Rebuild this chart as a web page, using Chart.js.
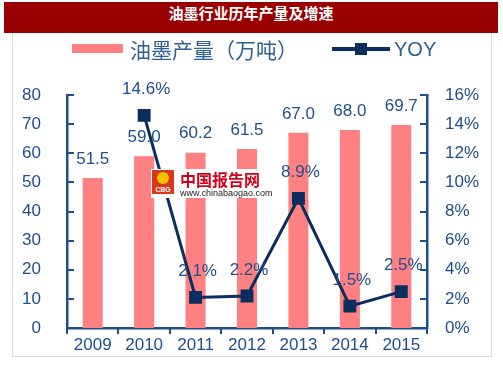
<!DOCTYPE html>
<html>
<head>
<meta charset="utf-8">
<script src="https://cdn.jsdelivr.net/npm/chart.js@4.4.0/dist/chart.umd.min.js"></script>
<style>
  html, body { margin: 0; padding: 0; background: #fff; }
  #wrap { position: relative; width: 503px; height: 378px; }
  #title {
    position: absolute; left: 4px; top: 2px; width: 494px; height: 31px;
    background: #990000; color: #fff; text-align: center; line-height: 31px;
    font: bold 15px "Noto Sans CJK SC", sans-serif;
  }
  #frame {
    position: absolute; left: 12px; top: 33px; width: 478px; height: 323px;
    border: 1px solid #dcdcdc; border-top: none;
  }
  canvas { position: absolute; left: 0; top: 0; }
</style>
</head>
<body>
<div id="wrap">
  <div id="title">油墨行业历年产量及增速</div>
  <div id="frame"></div>
  <canvas id="chart" width="503" height="378"></canvas>
</div>
<script>
const years = ["2009", "2010", "2011", "2012", "2013", "2014", "2015"];
const output = [51.5, 59.0, 60.2, 61.5, 67.0, 68.0, 69.7];
const yoy = [null, 14.6, 2.1, 2.2, 8.9, 1.5, 2.5];
const outputLabel = "油墨产量（万吨）";
const yoyLabel = "YOY";

const axisBlue = "#1F4E8C";
const lineNavy = "#0B2E5E";
const barPink = "#FF8080";
const numFont = "'Liberation Sans', Arial, sans-serif";

// tick marks drawn inward, legend, value labels and watermark
const decor = {
  id: "decor",
  afterDatasetsDraw(chart) {
    const ctx = chart.ctx;
    const area = chart.chartArea;
    const y = chart.scales.y, y1 = chart.scales.y1;
    ctx.save();
    ctx.strokeStyle = axisBlue;
    ctx.lineWidth = 2;
    y.ticks.forEach((t, i) => {
      const py = Math.round(y.getPixelForTick(i));
      ctx.beginPath(); ctx.moveTo(area.left, py); ctx.lineTo(area.left + 7, py); ctx.stroke();
    });
    y1.ticks.forEach((t, i) => {
      const py = Math.round(y1.getPixelForTick(i));
      ctx.beginPath(); ctx.moveTo(area.right - 7, py); ctx.lineTo(area.right, py); ctx.stroke();
    });
    const step = (area.right - area.left) / years.length;
    for (let i = 0; i <= years.length; i++) {
      const px = Math.round(area.left + i * step);
      ctx.beginPath(); ctx.moveTo(px, area.bottom); ctx.lineTo(px, area.bottom + 6); ctx.stroke();
    }

    // value labels
    ctx.font = "17px " + numFont;
    ctx.fillStyle = axisBlue;
    ctx.textAlign = "center";
    ctx.textBaseline = "middle";
    chart.getDatasetMeta(1).data.forEach((bar, i) => {
      ctx.fillText(output[i].toFixed(1), bar.x, bar.y - 19);
    });

    // watermark
    ctx.fillStyle = "#fff";
    ctx.fillRect(151, 169, 120, 29);
    ctx.fillStyle = "#D9381E";
    ctx.fillRect(152, 170, 22, 24);
    ctx.fillStyle = "#F5C400";
    ctx.beginPath(); ctx.arc(163, 178, 6, 0, Math.PI * 2); ctx.fill();
    ctx.fillStyle = "#fff";
    ctx.font = "bold 7px " + numFont;
    ctx.fillText("CBG", 163, 190);
    ctx.fillStyle = "#D0021B";
    ctx.font = "bold 16px 'Noto Sans CJK SC', sans-serif";
    ctx.textAlign = "left";
    ctx.fillText("中国报告网", 180, 180);
    ctx.fillStyle = "#222";
    ctx.font = "9px " + numFont;
    ctx.fillText("www.chinabaogao.com", 180, 194);

    ctx.font = "17px " + numFont;
    ctx.fillStyle = axisBlue;
    ctx.textAlign = "center";
    chart.getDatasetMeta(0).data.forEach((pt, i) => {
      if (yoy[i] == null) return;
      ctx.fillText(yoy[i].toFixed(1) + "%", pt.x + 2, pt.y - 26);
    });

    // legend
    ctx.fillStyle = barPink;
    ctx.fillRect(72, 44, 51, 9);
    ctx.fillStyle = "#30608F";
    ctx.font = "21px 'Noto Sans CJK SC', sans-serif";
    ctx.textAlign = "left";
    ctx.fillText(outputLabel, 130, 50);
    ctx.strokeStyle = lineNavy;
    ctx.lineWidth = 4;
    ctx.beginPath(); ctx.moveTo(332, 49); ctx.lineTo(390, 49); ctx.stroke();
    ctx.fillStyle = lineNavy;
    ctx.fillRect(355, 43, 12, 12);
    ctx.fillStyle = "#30608F";
    ctx.font = "20px " + numFont;
    ctx.fillText(yoyLabel, 394, 50);
    ctx.restore();
  }
};

new Chart(document.getElementById("chart"), {
  data: {
    labels: years,
    datasets: [
      {
        type: "line",
        label: yoyLabel,
        data: yoy,
        yAxisID: "y1",
        borderColor: lineNavy,
        backgroundColor: lineNavy,
        borderWidth: 3,
        pointStyle: "rect",
        pointRadius: 7,
        pointHoverRadius: 7,
        tension: 0,
        order: 0
      },
      {
        type: "bar",
        label: outputLabel,
        data: output,
        yAxisID: "y",
        backgroundColor: barPink,
        categoryPercentage: 1,
        barPercentage: 0.39,
        order: 1
      }
    ]
  },
  options: {
    responsive: false,
    animation: false,
    layout: { padding: { top: 95, left: 0, right: 0, bottom: 0 } },
    plugins: { legend: { display: false }, tooltip: { enabled: false }, title: { display: false } },
    scales: {
      x: {
        grid: { display: false, drawTicks: false },
        border: { color: axisBlue, width: 2.5 },
        ticks: { color: axisBlue, padding: 7, font: { size: 17, family: numFont } },
        afterFit: s => { s.height = 50; }
      },
      y: {
        position: "left",
        min: 0, max: 80,
        ticks: { stepSize: 10, color: axisBlue, padding: 26, font: { size: 17, family: numFont } },
        grid: { display: false, drawTicks: false },
        border: { color: axisBlue, width: 2.5 },
        afterFit: s => { s.width = 67; }
      },
      y1: {
        position: "right",
        min: 0, max: 16,
        ticks: { stepSize: 2, color: axisBlue, padding: 18, callback: v => v + "%", font: { size: 17, family: numFont } },
        grid: { display: false, drawTicks: false },
        border: { color: axisBlue, width: 2.5 },
        afterFit: s => { s.width = 76; }
      }
    }
  },
  plugins: [decor]
});
</script>
</body>
</html>
